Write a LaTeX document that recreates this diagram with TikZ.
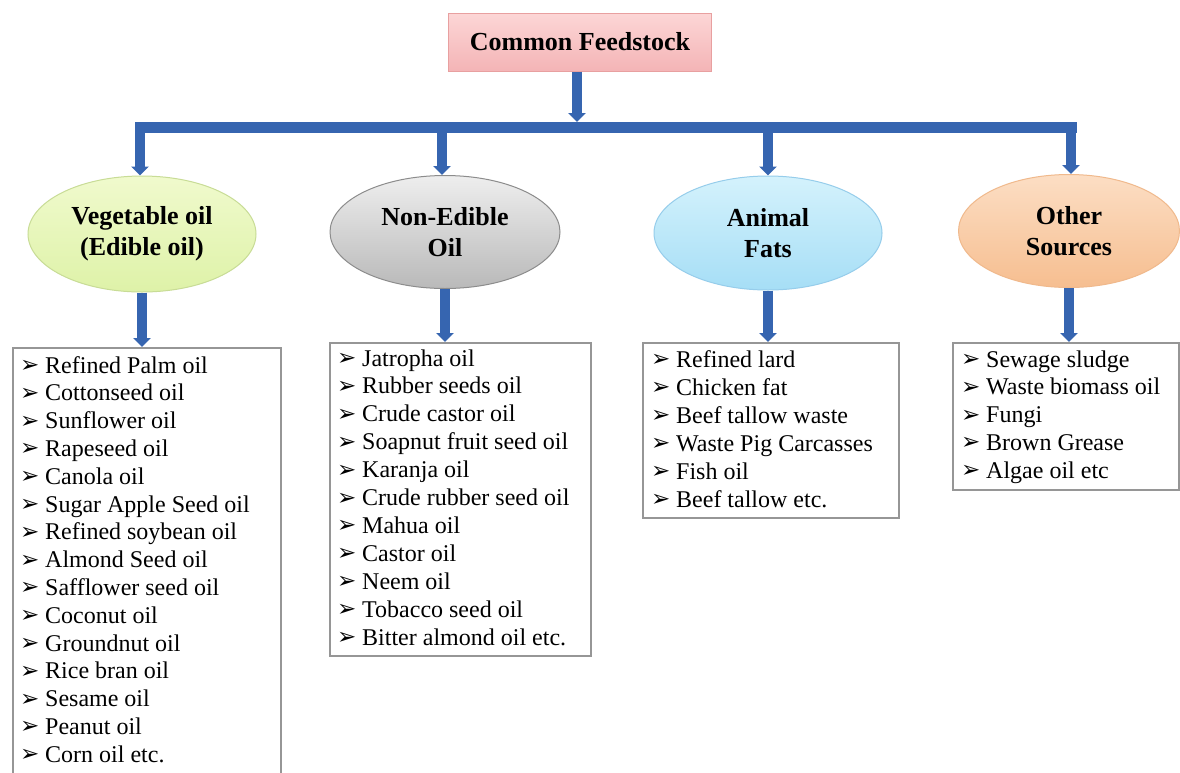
\documentclass[tikz,border=0pt]{standalone}
\usepackage{fontspec}
\setmainfont{Liberation Serif}
\newfontfamily\dejavu{DejaVu Sans}
\usetikzlibrary{arrows.meta,shapes.geometric}
\definecolor{arrblue}{RGB}{54,101,176}
\definecolor{boxgray}{RGB}{150,150,150}
\newcommand\bul{\makebox[25pt][l]{\raisebox{0.5pt}{\dejavu\fontsize{23}{23}\selectfont ➢}}}
\tikzset{
  arr/.style={draw=arrblue, line width=10pt, -{Triangle[width=17pt,length=9pt]}},
  bus/.style={draw=arrblue, line width=11pt, line cap=butt},
  topbox/.style={draw={rgb,255:red,232;green,160;blue,160}, line width=1pt,
    top color={rgb,255:red,252;green,214;blue,214}, bottom color={rgb,255:red,244;green,180;blue,182},
    minimum width=263pt, minimum height=58pt, inner sep=0pt,
    font=\bfseries\fontsize{26}{31}\selectfont},
  cat/.style={ellipse, line width=1pt, inner sep=0pt, align=center,
    font=\bfseries\fontsize{26}{31}\selectfont},
  listbox/.style={draw=boxgray, line width=1.5pt, fill=white, anchor=north west, inner sep=0pt},
  item/.style={anchor=base west, inner sep=0pt, font=\fontsize{24}{28}\selectfont},
}
\begin{document}
\begin{tikzpicture}[x=1pt,y=-1pt]
\useasboundingbox[fill=white] (0,0) rectangle (1180,772);

% top node
\node[topbox] (top) at (580,42) {Common Feedstock};

% bus
\coordinate (busL) at (135,127.5);
\coordinate (busR) at (1077,127.5);
\coordinate (busT) at (577,122);
\draw[bus] (busL) -- (busR);
\draw[arr] (top.south -| busT) -- (busT);

% category ellipses
\node[cat, minimum width=228pt, minimum height=116pt,
  draw={rgb,255:red,200;green,220;blue,150},
  top color={rgb,255:red,240;green,250;blue,205}, bottom color={rgb,255:red,222;green,242;blue,168}]
  (e1) at (142,234) {Vegetable oil\\(Edible oil)};
\node[cat, minimum width=230pt, minimum height=113pt,
  draw={rgb,255:red,140;green,140;blue,140},
  top color={rgb,255:red,238;green,238;blue,238}, bottom color={rgb,255:red,185;green,185;blue,185}]
  (e2) at (445,232) {Non-Edible\\Oil};
\node[cat, minimum width=228pt, minimum height=114pt,
  draw={rgb,255:red,150;green,205;blue,235},
  top color={rgb,255:red,212;green,242;blue,252}, bottom color={rgb,255:red,166;green,222;blue,246}]
  (e3) at (768,233) {Animal\\Fats};
\node[cat, minimum width=221pt, minimum height=113pt,
  draw={rgb,255:red,240;green,185;blue,140},
  top color={rgb,255:red,252;green,222;blue,196}, bottom color={rgb,255:red,246;green,190;blue,144}]
  (e4) at (1069,231) {Other\\Sources};

% drops from bus
\coordinate (d1) at (140,127.5);
\coordinate (d2) at (442,127.5);
\coordinate (d3) at (768,127.5);
\coordinate (d4) at (1071,127.5);
\draw[arr] (d1) -- (d1 |- e1.north);
\draw[arr] (d2) -- (d2 |- e2.north);
\draw[arr] (d3) -- (d3 |- e3.north);
\draw[arr] (d4) -- (d4 |- e4.north);

% list boxes
\node[listbox, minimum width=268pt, minimum height=440pt] (L1) at (12,347) {};
\node[listbox, minimum width=261pt, minimum height=313pt] (L2) at (329,342) {};
\node[listbox, minimum width=256pt, minimum height=175pt] (L3) at (642,342) {};
\node[listbox, minimum width=226pt, minimum height=147pt] (L4) at (952,342) {};

% arrows from ellipses to boxes
\draw[arr] (e1.south) -- (e1.south |- L1.north);
\draw[arr] (e2.south) -- (e2.south |- L2.north);
\draw[arr] (e3.south) -- (e3.south |- L3.north);
\draw[arr] (e4.south) -- (e4.south |- L4.north);

% list items
\foreach \t [count=\i] in {Refined Palm oil, Cottonseed oil, Sunflower oil, Rapeseed oil, Canola oil,
  Sugar Apple Seed oil, Refined soybean oil, Almond Seed oil, Safflower seed oil, Coconut oil,
  Groundnut oil, Rice bran oil, Sesame oil, Peanut oil, Corn oil etc.}
  \node[item] (ia\i) at (20,{373+27.8*(\i-1)}) {\bul\t};
\foreach \t [count=\i] in {Jatropha oil, Rubber seeds oil, Crude castor oil, Soapnut fruit seed oil,
  Karanja oil, Crude rubber seed oil, Mahua oil, Castor oil, Neem oil, Tobacco seed oil,
  Bitter almond oil etc.}
  \node[item] (ib\i) at (337,{366+27.9*(\i-1)}) {\bul\t};
\foreach \t [count=\i] in {Refined lard, Chicken fat, Beef tallow waste, Waste Pig Carcasses,
  Fish oil, Beef tallow etc.}
  \node[item] (ic\i) at (651,{367+28*(\i-1)}) {\bul\t};
\foreach \t [count=\i] in {Sewage sludge, Waste biomass oil, Fungi, Brown Grease, Algae oil etc}
  \node[item] (id\i) at (961,{367+27.8*(\i-1)}) {\bul\t};
\end{tikzpicture}
\end{document}
